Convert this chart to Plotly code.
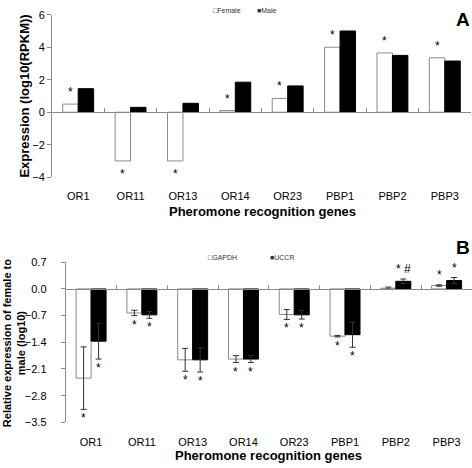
import plotly.graph_objects as go

genes = ["OR1", "OR11", "OR13", "OR14", "OR23", "PBP1", "PBP2", "PBP3"]

# Panel A: expression log10(RPKM)
female = [0.5, -3.0, -3.0, 0.1, 0.85, 4.0, 3.65, 3.35]
male = [1.45, 0.3, 0.55, 1.85, 1.62, 5.0, 3.5, 3.15]
stars_a = ["*"] * 8

# Panel B: relative expression female/male (log10)
gapdh = [-2.34, -0.63, -1.86, -1.84, -0.67, -1.24, 0.02, 0.09]
gapdh_err = [0.82, 0.07, 0.30, 0.09, 0.13, 0.02, 0.03, 0.02]
uccr = [-1.37, -0.68, -1.86, -1.84, -0.68, -1.20, 0.20, 0.22]
uccr_err = [0.47, 0.09, 0.32, 0.09, 0.11, 0.33, 0.06, 0.08]
stars_gapdh = ["*", "*", "*", "*", "*", "*", "", "*"]
stars_uccr = ["*", "*", "*", "*", "*", "*", "* #", "*"]

yA_range = [-4, 6]
yB_range = [-3.5, 0.7]
yB_ticks = [0.7, 0.0, -0.7, -1.4, -2.1, -2.8, -3.5]

W, H = 472, 468
FONT = "Arial, Liberation Sans, sans-serif"
GRAY = "#8a8a8a"
bargap = 0.41
bw = (1 - bargap) / 2

# domains from pixel layout
xA = [52 / W, 471 / W]
yA = [1 - 175.7 / H, 1 - 9 / H]
xB = [65.7 / W, 1.0]
yB = [1 - 427.3 / H, 1 - 263 / H]

def zero_pos(dom, rng):
    return dom[0] + (0 - rng[0]) / (rng[1] - rng[0]) * (dom[1] - dom[0])

fig = go.Figure()

fig.add_bar(x=genes, y=female, name="Female", marker=dict(color="white", line=dict(color=GRAY, width=1)),
            xaxis="x", yaxis="y")
fig.add_bar(x=genes, y=male, name="Male", marker=dict(color="black", line=dict(color="black", width=1)),
            xaxis="x", yaxis="y")
err_style = dict(type="data", color="#333", thickness=1, width=3, visible=True)
fig.add_bar(x=genes, y=gapdh, name="GAPDH", marker=dict(color="white", line=dict(color=GRAY, width=1)),
            error_y=dict(array=gapdh_err, **err_style), xaxis="x2", yaxis="y2")
fig.add_bar(x=genes, y=uccr, name="UCCR", marker=dict(color="black", line=dict(color="black", width=1)),
            error_y=dict(array=uccr_err, **err_style), xaxis="x2", yaxis="y2")
# dummy traces for the zero-line overlay axes
fig.add_scatter(x=[None], y=[None], xaxis="x3", yaxis="y", showlegend=False, hoverinfo="skip")
fig.add_scatter(x=[None], y=[None], xaxis="x4", yaxis="y2", showlegend=False, hoverinfo="skip")

tickfont = dict(family=FONT, size=11, color="black")
cat_axis = dict(type="category", range=[-0.5, 7.5], showline=False, showgrid=False, zeroline=False,
                ticks="outside", ticklen=9, tickcolor="rgba(0,0,0,0)", tickfont=tickfont, fixedrange=True)
zero_axis = dict(type="linear", range=[-0.5, 7.5], tickvals=[0.5 + i for i in range(7)],
                 ticks="inside", ticklen=4, tickcolor=GRAY, showticklabels=False, showline=True,
                 linecolor=GRAY, linewidth=1, showgrid=False, zeroline=False, anchor="free")

fig.update_layout(
    width=W, height=H, margin=dict(l=0, r=0, t=0, b=0),
    paper_bgcolor="white", plot_bgcolor="white", showlegend=False,
    barmode="group", bargap=bargap, bargroupgap=0,
    font=dict(family=FONT, color="black"),
    xaxis=dict(domain=xA, anchor="y", **cat_axis),
    yaxis=dict(domain=yA, range=yA_range, dtick=2, anchor="x", showline=True, linecolor=GRAY,
               ticks="outside", ticklen=4, tickcolor=GRAY, showgrid=False, zeroline=False,
               tickfont=tickfont),
    xaxis2=dict(domain=xB, anchor="y2", **cat_axis),
    yaxis2=dict(domain=yB, range=yB_range, tickvals=yB_ticks, tickformat=".1f", anchor="x2",
                showline=True, linecolor=GRAY, ticks="outside", ticklen=4, tickcolor=GRAY,
                showgrid=False, zeroline=False, tickfont=tickfont, ticklabelstandoff=12),
    xaxis3=dict(overlaying="x", position=zero_pos(yA, yA_range), **zero_axis),
    xaxis4=dict(overlaying="x2", position=zero_pos(yB, yB_range), **zero_axis),
)

ann = []
# stars on panel A (female bars)
for i, (v, s) in enumerate(zip(female, stars_a)):
    if s:
        ann.append(dict(x=i - bw / 2, y=v, xref="x", yref="y", text=s, showarrow=False,
                        xanchor="center", yanchor="middle",
                        font=dict(size=12, family=FONT), yshift=12 if v >= 0 else -13))
# stars on panel B
for series, errs, stars, off in [(gapdh, gapdh_err, stars_gapdh, -bw / 2), (uccr, uccr_err, stars_uccr, bw / 2)]:
    for i, (v, e, s) in enumerate(zip(series, errs, stars)):
        if s:
            end = v + e if v >= 0 else v - e
            ann.append(dict(x=i + off, y=end, xref="x2", yref="y2", text=s, showarrow=False,
                            xanchor="center", yanchor="middle",
                            font=dict(size=12, family=FONT), yshift=10 if v >= 0 else -9))

def pann(px, py, text, size, **kw):
    d = dict(x=px / W, y=1 - py / H, xref="paper", yref="paper", text=text, showarrow=False,
             xanchor=kw.pop("xanchor", "center"), yanchor="middle", font=dict(size=size, color=kw.pop("color", "black")))
    d.update(kw)
    return d

# legends
ann += [
    pann(211, 5, "□Female", 7, xanchor="left", color="#333"),
    pann(255, 5, "■Male", 7, xanchor="left", color="#333"),
    pann(206, 258, "□GAPDH", 7, xanchor="left", color="#333"),
    pann(268, 258, "■UCCR", 7, xanchor="left", color="#333"),
]
# panel letters
ann += [
    pann(463, 14, "<b>A</b>", 19),
    pann(463, 248, "<b>B</b>", 19),
]
# axis titles
ann += [
    pann(262, 211, "<b>Pheromone recognition genes</b>", 13),
    pann(25, 93, "<b>Expression (log10(RPKM))</b>", 13, textangle=-90),
    pann(268, 461, "<b>Pheromone recognition genes</b>", 13),
    pann(14, 346, "<b>Relative expression of female to<br>male (log10)</b>", 11, textangle=-90),
]
fig.update_layout(annotations=ann)

fig.write_html("out.html", config={"displayModeBar": False},
               post_script="document.body.style.margin='0';document.body.style.overflow='hidden';")
